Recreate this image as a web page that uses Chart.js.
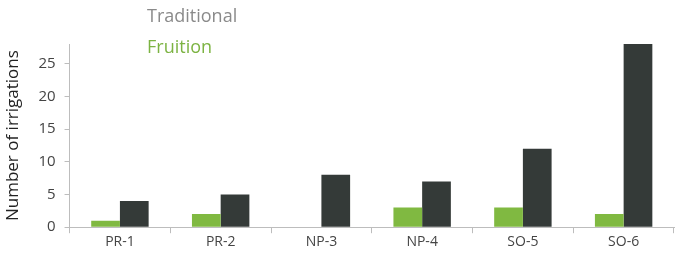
<!DOCTYPE html>
<html>
<head>
<meta charset="utf-8">
<script src="https://cdn.jsdelivr.net/npm/chart.js@4"></script>
<style>
  html, body { margin: 0; padding: 0; background: #fff; }
</style>
</head>
<body>
<canvas id="chart" width="688" height="261"></canvas>
<script>
const categories = ['PR-1', 'PR-2', 'NP-3', 'NP-4', 'SO-5', 'SO-6'];
const fruition = [1, 2, 0, 3, 3, 2];
const traditional = [4, 5, 8, 7, 12, 28];

// legend drawn as plain coloured text, stacked, like the original
const textLegend = {
  id: 'textLegend',
  afterDraw(chart) {
    const { ctx } = chart;
    ctx.save();
    ctx.font = '18px "Open Sans"';
    ctx.textBaseline = 'middle';
    ctx.textAlign = 'left';
    ctx.fillStyle = '#8a8a8a';
    ctx.fillText(chart.data.datasets[1].label, 147, 17);
    ctx.fillStyle = '#7cb342';
    ctx.fillText(chart.data.datasets[0].label, 147, 48);
    ctx.restore();
  }
};

const config = {
  type: 'bar',
  data: {
    labels: categories,
    datasets: [
      { label: 'Fruition', data: fruition, backgroundColor: '#80b941' },
      { label: 'Traditional', data: traditional, backgroundColor: '#343a38' }
    ]
  },
  options: {
    responsive: false,
    animation: false,
    layout: { padding: { top: 44, right: 14, left: 3, bottom: 11 } },
    datasets: { bar: { barPercentage: 1, categoryPercentage: 0.57 } },
    plugins: { legend: { display: false }, tooltip: { enabled: false } },
    scales: {
      x: {
        grid: { display: true, drawOnChartArea: false, drawTicks: true, tickLength: 6, color: '#bdbdbd' },
        border: { color: '#bdbdbd' },
        ticks: { color: '#444', font: { family: 'Open Sans', size: 14 }, padding: 0 }
      },
      y: {
        min: 0,
        max: 28,
        afterBuildTicks(scale) {
          scale.ticks = scale.ticks.filter(t => t.value % 5 === 0);
        },
        grid: { display: true, drawOnChartArea: false, drawTicks: true, tickLength: 5, color: '#bdbdbd' },
        border: { color: '#bdbdbd' },
        ticks: { stepSize: 5, color: '#444', font: { family: 'Open Sans', size: 15 }, padding: 9 },
        title: { display: true, text: 'Number of irrigations', color: '#222', font: { family: 'Open Sans', size: 17 }, padding: { top: 0, bottom: 6 } }
      }
    }
  },
  plugins: [textLegend]
};

new Chart(document.getElementById('chart'), config);
</script>
</body>
</html>
